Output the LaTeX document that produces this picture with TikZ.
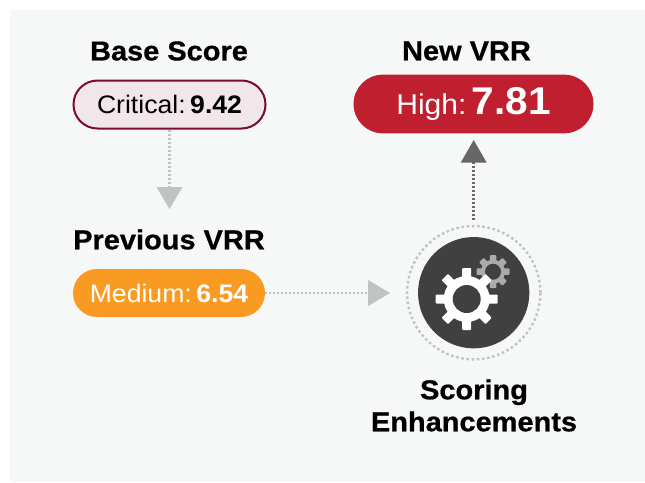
\documentclass[tikz,border=0pt]{standalone}
\usepackage{fontspec}
\setmainfont[FakeStretch=1.05]{Liberation Sans}
\newfontfamily\headfont[BoldFeatures={FakeBold=0.7,FakeStretch=1.06}]{Liberation Sans}
\usepackage{xcolor}
\usetikzlibrary{arrows.meta,positioning,shapes.misc}
\definecolor{panelbg}{HTML}{F6F8F7}
\definecolor{critfill}{HTML}{F1E6EA}
\definecolor{critline}{HTML}{7A0C2E}
\definecolor{highred}{HTML}{BF1F2F}
\definecolor{medorange}{HTML}{F99B23}
\definecolor{flowgray}{HTML}{C0C2C3}
\definecolor{flowdark}{HTML}{666666}
\definecolor{hubdark}{HTML}{404040}
\definecolor{coggray}{HTML}{ABABAB}
\tikzset{
  heading/.style={font=\headfont\fontsize{20.5}{24}\selectfont\bfseries,align=center,text=black},
  pill/.style={rounded rectangle,inner sep=0pt,font=\fontsize{19}{20}\selectfont},
  flowlight/.style={draw=flowgray,line width=2pt,dash pattern=on 1.5pt off 1.5pt,
    -{Triangle[length=16.5pt,width=19pt,fill=flowgray,sep=0pt]}},
  flowstrong/.style={draw=flowdark,line width=1.9pt,dash pattern=on 1.5pt off 1.5pt,
    -{Triangle[length=17pt,width=19pt,fill=flowdark,sep=0pt]}}
}
% one cog: centre, tooth tip radius, body radius, hole radius, tooth width, colour
\newcommand{\cogwheel}[6]{
  \foreach \A in {0,45,...,315}{
    \fill[#6,rounded corners=0.6pt,shift={#1},rotate=\A] (0,{-#5/2}) rectangle (#2,{#5/2});
  }
  \fill[#6,shift={#1}] (0,0) circle[radius=#3];
  \fill[hubdark,shift={#1}] (0,0) circle[radius=#4];
}
\begin{document}
\begin{tikzpicture}[x=0.75pt,y=-0.75pt]
  \useasboundingbox (0,0) rectangle (645,482);
  % panel
  \fill[panelbg] (10,10) rectangle (645,482);
  % left column
  \node[heading] (basehead) at (169,51) {Base Score};
  \node[pill,draw=critline,line width=1.5pt,fill=critfill,minimum width=144pt,minimum height=36pt]
    (critical) at (169.5,104.5) {Critical:\hspace{0.18em}\textbf{9.42}};
  \node[heading] (prevhead) at (169,239.5) {Previous VRR};
  \node[pill,fill=medorange,text=white,minimum width=144pt,minimum height=36pt]
    (medium) at (169,293) {Medium:\hspace{0.18em}\textbf{6.54}};
  % right column
  \node[heading] (newhead) at (466.5,51) {New VRR};
  \node[pill,fill=highred,text=white,minimum width=180pt,minimum height=44pt,font=\fontsize{21.5}{24}\selectfont]
    (high) at (473.5,104) {High:\hspace{0.18em}\textbf{\fontsize{29}{30}\selectfont 7.81}};
  % scoring hub
  \node[circle,draw=flowgray,line width=1.8pt,dash pattern=on 1.9pt off 2pt,inner sep=0pt,minimum size=100pt]
    (ring) at (473.7,292.7) {};
  \node[circle,fill=hubdark,inner sep=0pt,minimum size=83.5pt] (hub) at (473.7,292.7) {};
  \cogwheel{(493,271.7)}{16.5}{12}{8}{6.5}{coggray}
  \cogwheel{(466.7,299)}{31}{23}{14}{9}{white}
  \node[heading] (scorehead) at (474,405.5) {Scoring\\[0pt]Enhancements};
  % connectors
  \coordinate (downtip) at (169.5,209);
  \coordinate (sidetip) at (390,293);
  \coordinate (uptip) at (473.7,140);
  \draw[flowlight] (critical.south) -- (downtip);
  \draw[flowlight] (medium.east) -- (sidetip);
  \draw[flowstrong,shorten <=4pt] (ring.north) -- (uptip);
\end{tikzpicture}
\end{document}
